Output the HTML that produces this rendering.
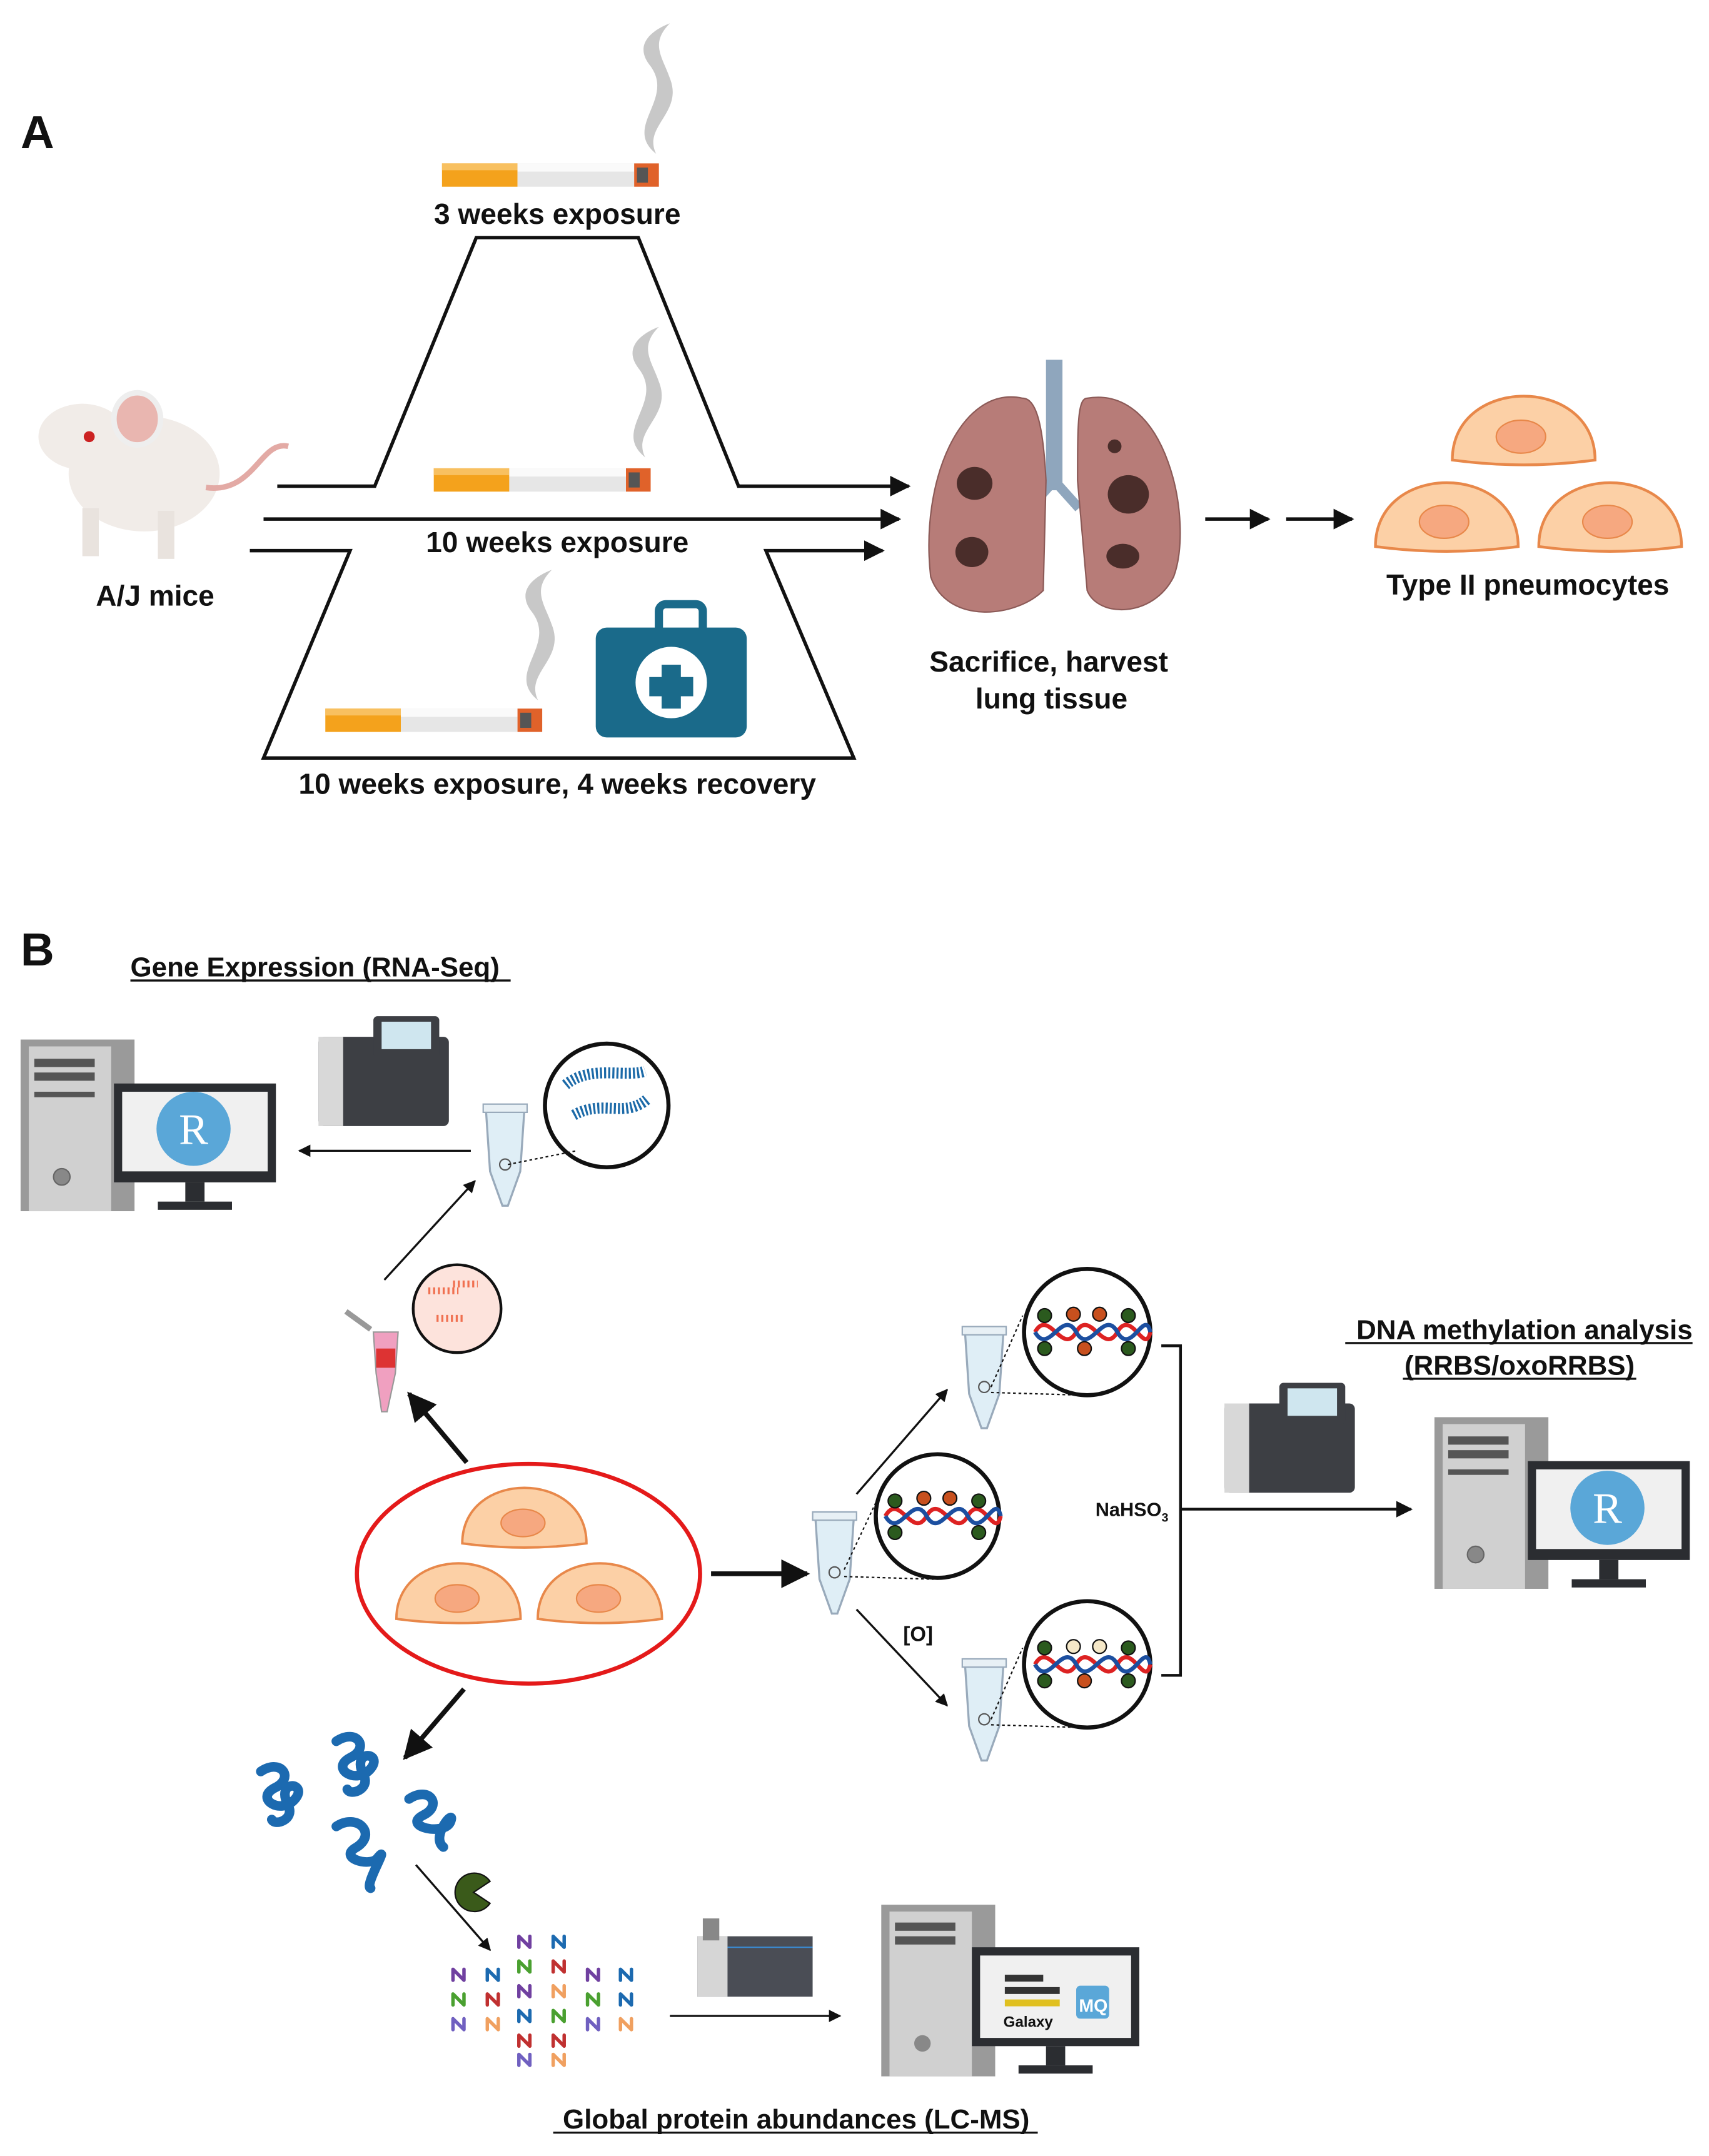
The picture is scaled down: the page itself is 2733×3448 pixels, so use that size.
<!DOCTYPE html>
<html><head><meta charset="utf-8"><style>html,body{margin:0;padding:0;background:#fff}svg{display:block}text{font-family:"Liberation Sans",sans-serif;font-weight:bold;fill:#111}</style></head><body>
<svg width="2733" height="3448" viewBox="0 0 1245 1570" preserveAspectRatio="none" xmlns="http://www.w3.org/2000/svg">
<defs>
<marker id="ar" viewBox="0 0 10 10" refX="9" refY="5" markerWidth="6" markerHeight="6" orient="auto"><path d="M0,0L10,5L0,10z" fill="#111"/></marker>
<g id="cig"><rect x="0" y="0" width="55" height="17" fill="#f4a21c"/><rect x="0" y="0" width="55" height="5" fill="#f8c060"/><rect x="55" y="0" width="85" height="17" fill="#e6e6e6"/><rect x="55" y="0" width="85" height="6" fill="#fafafa"/><rect x="140" y="0" width="18" height="17" fill="#e0622a"/><rect x="142" y="3" width="8" height="11" fill="#555"/></g>
<path id="smoke" d="M0,0 C-25,-20 15,-40 -5,-65 C-20,-85 10,-95 10,-95 C-5,-80 5,-70 10,-55 C20,-30 -10,-20 0,0Z" fill="#c8c8c8"/>
<path id="cell" d="M-52,24 C-52,-38 52,-38 52,24 Q0,31 -52,24Z" fill="#fcd0a6" stroke="#e8884a" stroke-width="2"/>
<g id="tube"><path d="M-14,0 L14,0 L11,45 L2,70 L-2,70 L-11,45Z" fill="#dfeef6" stroke="#9ab" stroke-width="1.5"/><rect x="-16" y="-4" width="32" height="6" fill="#e8f0f5" stroke="#9ab"/><circle cx="0" cy="40" r="4" fill="none" stroke="#555"/></g>
<g id="seq"><rect x="0" y="15" width="95" height="65" rx="4" fill="#3d3f44"/><rect x="0" y="15" width="18" height="65" fill="#d8d8d8"/><rect x="40" y="0" width="48" height="30" rx="3" fill="#3d3f44"/><rect x="46" y="4" width="36" height="20" fill="#cfe6ef"/></g>
<g id="comp"><rect x="0" y="0" width="83" height="125" fill="#9a9a9a"/><rect x="6" y="5" width="60" height="120" fill="#d0d0d0"/><rect x="10" y="14" width="44" height="6" fill="#555"/><rect x="10" y="24" width="44" height="6" fill="#555"/><rect x="10" y="38" width="44" height="4" fill="#555"/><circle cx="30" cy="100" r="6" fill="#888" stroke="#666"/><rect x="68" y="32" width="118" height="72" fill="#2b2d31"/><rect x="74" y="38" width="106" height="58" fill="#f0f0f0"/><rect x="120" y="104" width="14" height="14" fill="#2b2d31"/><rect x="100" y="118" width="54" height="6" fill="#2b2d31"/></g>
<g id="dna"><path d="M-38,0 C-28,-18 -18,18 -8,0 C2,-18 12,18 22,0 C32,-18 42,18 46,0" fill="none" stroke="#d22" stroke-width="3"/><path d="M-38,0 C-28,18 -18,-18 -8,0 C2,18 12,-18 22,0 C32,18 42,-18 46,0" fill="none" stroke="#1c4fa0" stroke-width="3"/></g>
<path id="pep" d="M0,8 L0,0 L8,8 L8,0" fill="none" stroke-width="2.5" stroke-linecap="round" stroke-linejoin="round"/>
</defs>

<text x="15" y="108" font-size="34">A</text>
<use href="#smoke" transform="translate(478,112)"/>
<use href="#cig" transform="translate(322,119)"/>
<text x="406" y="163" font-size="21" text-anchor="middle">3 weeks exposure</text>
<g fill="none" stroke="#111" stroke-width="2.5">
<polyline points="202,354 273,354 347,173 465,173 538,354 662,354" marker-end="url(#ar)"/>
<line x1="192" y1="378" x2="655" y2="378" marker-end="url(#ar)"/>
<polyline points="182,401 255,401 192,552 622,552 558,401 643,401" marker-end="url(#ar)"/>
<line x1="878" y1="378" x2="924" y2="378" marker-end="url(#ar)"/>
<line x1="937" y1="378" x2="985" y2="378" marker-end="url(#ar)"/>
</g>
<use href="#smoke" transform="translate(470,333)"/>
<use href="#cig" transform="translate(316,341)"/>
<text x="406" y="402" font-size="21" text-anchor="middle">10 weeks exposure</text>
<use href="#smoke" transform="translate(392,510)"/>
<use href="#cig" transform="translate(237,516)"/>
<rect x="480" y="440" width="32" height="22" rx="5" fill="none" stroke="#1a6a8a" stroke-width="6"/>
<rect x="434" y="457" width="110" height="80" rx="8" fill="#1a6a8a"/>
<circle cx="489" cy="497" r="26" fill="#fff"/>
<path d="M482,484h14v9h9v14h-9v9h-14v-9h-9v-14h9z" fill="#1a6a8a"/>
<text x="406" y="578" font-size="21" text-anchor="middle">10 weeks exposure, 4 weeks recovery</text>
<ellipse cx="105" cy="345" rx="55" ry="42" fill="#f1ece8"/>
<ellipse cx="60" cy="318" rx="32" ry="24" fill="#f1ece8"/>
<ellipse cx="100" cy="305" rx="17" ry="19" fill="#e9b6b0" stroke="#eee" stroke-width="4"/>
<circle cx="65" cy="318" r="4" fill="#c22"/>
<path d="M150,355 C185,360 190,320 210,325" fill="none" stroke="#e3aaa5" stroke-width="4"/>
<rect x="60" y="370" width="12" height="35" fill="#e9e3de"/><rect x="115" y="372" width="12" height="35" fill="#e9e3de"/>
<text x="113" y="441" font-size="21" text-anchor="middle">A/J mice</text>
<rect x="762" y="262" width="12" height="95" fill="#8fa6bd"/>
<path d="M768,350 L750,370 M768,350 L786,370" stroke="#8fa6bd" stroke-width="7"/>
<path d="M745,290 C700,280 670,350 678,420 C690,455 740,450 760,430 L762,350 C760,310 755,290 745,290Z" fill="#b77c78" stroke="#8c5a57"/>
<path d="M792,290 C850,280 870,380 855,420 C840,450 800,450 792,430 L785,350 C785,310 785,290 792,290Z" fill="#b77c78" stroke="#8c5a57"/>
<ellipse cx="710" cy="352" rx="13" ry="12" fill="#4a2d2a"/><ellipse cx="708" cy="402" rx="12" ry="11" fill="#4a2d2a"/>
<ellipse cx="822" cy="360" rx="15" ry="14" fill="#4a2d2a"/><ellipse cx="818" cy="405" rx="12" ry="9" fill="#4a2d2a"/><circle cx="812" cy="325" r="5" fill="#4a2d2a"/>
<text x="764" y="489" font-size="21" text-anchor="middle">Sacrifice, harvest</text>
<text x="766" y="516" font-size="21" text-anchor="middle">lung tissue</text>
<use href="#cell" transform="translate(1110,311)"/><ellipse cx="1108" cy="318" rx="18" ry="12" fill="#f6a880" stroke="#e8884a"/>
<use href="#cell" transform="translate(1054,374)"/><ellipse cx="1052" cy="380" rx="18" ry="12" fill="#f6a880" stroke="#e8884a"/>
<use href="#cell" transform="translate(1173,374)"/><ellipse cx="1171" cy="380" rx="18" ry="12" fill="#f6a880" stroke="#e8884a"/>
<text x="1113" y="433" font-size="21" text-anchor="middle">Type II pneumocytes</text>

<text x="15" y="703" font-size="34">B</text>
<text x="95" y="711" font-size="20">Gene Expression (RNA-Seq)</text>
<line x1="95" y1="714" x2="372" y2="714" stroke="#111" stroke-width="1.5"/>
<use href="#comp" transform="translate(15,757)"/>
<circle cx="141" cy="822" r="27" fill="#5aa7d8"/><text x="141" y="833" font-size="32" text-anchor="middle" style="font-family:'Liberation Serif',serif;font-weight:normal;fill:#fff">R</text>
<use href="#seq" transform="translate(232,740)"/>
<g fill="none" stroke="#111" stroke-width="1.5">
<line x1="343" y1="838" x2="218" y2="838" marker-end="url(#ar)"/>
<line x1="280" y1="932" x2="346" y2="860" marker-end="url(#ar)"/>
<line x1="340" y1="1065" x2="298" y2="1015" stroke-width="3.5" marker-end="url(#ar)"/>
<line x1="518" y1="1146" x2="588" y2="1146" stroke-width="3.5" marker-end="url(#ar)"/>
<line x1="624" y1="1088" x2="690" y2="1012" marker-end="url(#ar)"/>
<line x1="624" y1="1172" x2="690" y2="1242" marker-end="url(#ar)"/>
<polyline points="846,980 860,980 860,1220 846,1220" stroke-width="2"/>
<line x1="860" y1="1099" x2="1028" y2="1099" stroke-width="2" marker-end="url(#ar)"/>
<line x1="338" y1="1230" x2="295" y2="1280" stroke-width="3.5" marker-end="url(#ar)"/>
<line x1="303" y1="1358" x2="357" y2="1420" marker-end="url(#ar)"/>
<line x1="488" y1="1468" x2="612" y2="1468" marker-end="url(#ar)"/>
</g>
<use href="#tube" transform="translate(368,808)"/>
<circle cx="442" cy="805" r="45" fill="#fff" stroke="#111" stroke-width="3"/>
<path d="M412,790 C430,775 455,785 470,780 M418,812 C440,800 455,815 472,800" fill="none" stroke="#1c6aa8" stroke-width="8" stroke-dasharray="1.5 1.5"/>
<line x1="370" y1="848" x2="420" y2="838" stroke="#111" stroke-dasharray="2 2"/>
<path d="M272,970 L290,970 L288,1000 L282,1028 L278,1028 L274,1000Z" fill="#f0a0c0" stroke="#999"/>
<rect x="274" y="982" width="14" height="14" fill="#d33"/>
<path d="M252,955 L270,968" stroke="#999" stroke-width="4"/>
<circle cx="333" cy="953" r="32" fill="#fde3dc" stroke="#111" stroke-width="2"/>
<path d="M312,940h22M318,960h20M330,935h18" stroke="#f07050" stroke-width="5" stroke-dasharray="1.5 2"/>
<ellipse cx="385" cy="1146" rx="125" ry="80" fill="none" stroke="#e41a1a" stroke-width="3"/>
<use href="#cell" transform="translate(382,1103) scale(0.87)"/><ellipse cx="381" cy="1109" rx="16" ry="10" fill="#f6a880" stroke="#e8884a"/>
<use href="#cell" transform="translate(334,1158) scale(0.87)"/><ellipse cx="333" cy="1164" rx="16" ry="10" fill="#f6a880" stroke="#e8884a"/>
<use href="#cell" transform="translate(437,1158) scale(0.87)"/><ellipse cx="436" cy="1164" rx="16" ry="10" fill="#f6a880" stroke="#e8884a"/>
<use href="#tube" transform="translate(608,1105)"/>
<circle cx="683" cy="1104" r="45" fill="#fff" stroke="#111" stroke-width="3"/>
<use href="#dna" transform="translate(683,1104)"/>
<g fill="#2b5a1e" stroke="#111"><circle cx="652" cy="1093" r="5"/><circle cx="713" cy="1093" r="5"/><circle cx="652" cy="1116" r="5"/><circle cx="713" cy="1116" r="5"/></g>
<g fill="#c8501e" stroke="#111"><circle cx="673" cy="1091" r="5"/><circle cx="692" cy="1091" r="5"/></g>
<text x="658" y="1195" font-size="15">[O]</text>
<use href="#tube" transform="translate(717,970)"/>
<circle cx="792" cy="970" r="46" fill="#fff" stroke="#111" stroke-width="3"/>
<use href="#dna" transform="translate(792,970)"/>
<g fill="#2b5a1e" stroke="#111"><circle cx="761" cy="958" r="5"/><circle cx="822" cy="958" r="5"/><circle cx="761" cy="982" r="5"/><circle cx="822" cy="982" r="5"/></g>
<g fill="#c8501e" stroke="#111"><circle cx="782" cy="957" r="5"/><circle cx="801" cy="957" r="5"/><circle cx="790" cy="982" r="5"/></g>
<use href="#tube" transform="translate(717,1212)"/>
<circle cx="792" cy="1212" r="46" fill="#fff" stroke="#111" stroke-width="3"/>
<use href="#dna" transform="translate(792,1212)"/>
<g fill="#2b5a1e" stroke="#111"><circle cx="761" cy="1200" r="5"/><circle cx="822" cy="1200" r="5"/><circle cx="761" cy="1224" r="5"/><circle cx="822" cy="1224" r="5"/></g>
<g fill="#f5e8c8" stroke="#111"><circle cx="782" cy="1199" r="5"/><circle cx="801" cy="1199" r="5"/></g><circle cx="790" cy="1224" r="5" fill="#c8501e" stroke="#111"/>
<g stroke="#111" stroke-dasharray="2 2"><line x1="615" y1="1143" x2="640" y2="1090"/><line x1="615" y1="1148" x2="680" y2="1150"/><line x1="722" y1="1010" x2="745" y2="958"/><line x1="722" y1="1014" x2="790" y2="1016"/><line x1="722" y1="1252" x2="745" y2="1200"/><line x1="722" y1="1256" x2="790" y2="1258"/></g>
<text x="798" y="1104" font-size="14">NaHSO<tspan font-size="9" dy="4">3</tspan></text>
<text x="1233" y="975" font-size="20" text-anchor="end">DNA methylation analysis</text>
<text x="1107" y="1001" font-size="20" text-anchor="middle">(RRBS/oxoRRBS)</text>
<line x1="980" y1="978" x2="1233" y2="978" stroke="#111" stroke-width="1.5"/>
<line x1="1022" y1="1004" x2="1192" y2="1004" stroke="#111" stroke-width="1.5"/>
<use href="#seq" transform="translate(892,1007)"/>
<use href="#comp" transform="translate(1045,1032)"/>
<circle cx="1171" cy="1098" r="27" fill="#5aa7d8"/><text x="1171" y="1109" font-size="32" text-anchor="middle" style="font-family:'Liberation Serif',serif;font-weight:normal;fill:#fff">R</text>
<g fill="none" stroke="#1c6ab0" stroke-width="7" stroke-linecap="round">
<path d="M190,1290 c15,-10 25,5 10,12 c-15,8 5,20 15,8 c10,-12 -15,-15 -5,5 c5,10 -10,15 -12,10"/>
<path d="M245,1268 c15,-10 25,5 10,12 c-15,8 5,20 15,8 c10,-12 -15,-15 -5,5 c5,10 -10,15 -12,10"/>
<path d="M245,1330 c15,-10 30,5 15,15 c-15,8 10,15 15,8 c10,-12 -10,20 -5,22"/>
<path d="M298,1310 c15,-10 25,5 10,12 c-15,8 15,15 20,5 c5,-12 -15,10 -5,18"/>
</g>
<path d="M345,1378 L357,1370 A14,14 0 1,0 357,1386Z" fill="#3a5a1a" stroke="#111"/>
<g>
<use href="#pep" transform="translate(378,1410)" stroke="#7040a0"/><use href="#pep" transform="translate(403,1410)" stroke="#1c6ab0"/>
<use href="#pep" transform="translate(330,1434)" stroke="#7040a0"/><use href="#pep" transform="translate(355,1434)" stroke="#1c6ab0"/><use href="#pep" transform="translate(378,1428)" stroke="#4aa030"/><use href="#pep" transform="translate(403,1428)" stroke="#c03030"/><use href="#pep" transform="translate(428,1434)" stroke="#7040a0"/><use href="#pep" transform="translate(452,1434)" stroke="#1c6ab0"/>
<use href="#pep" transform="translate(330,1452)" stroke="#4aa030"/><use href="#pep" transform="translate(355,1452)" stroke="#c03030"/><use href="#pep" transform="translate(378,1446)" stroke="#7040a0"/><use href="#pep" transform="translate(403,1446)" stroke="#f0a060"/><use href="#pep" transform="translate(428,1452)" stroke="#4aa030"/><use href="#pep" transform="translate(452,1452)" stroke="#1c6ab0"/>
<use href="#pep" transform="translate(330,1470)" stroke="#7060c0"/><use href="#pep" transform="translate(355,1470)" stroke="#f0a060"/><use href="#pep" transform="translate(378,1464)" stroke="#1c6ab0"/><use href="#pep" transform="translate(403,1464)" stroke="#4aa030"/><use href="#pep" transform="translate(428,1470)" stroke="#7060c0"/><use href="#pep" transform="translate(452,1470)" stroke="#f0a060"/>
<use href="#pep" transform="translate(378,1482)" stroke="#c03030"/><use href="#pep" transform="translate(403,1482)" stroke="#c03030"/>
<use href="#pep" transform="translate(378,1496)" stroke="#7060c0"/><use href="#pep" transform="translate(403,1496)" stroke="#f0a060"/>
</g>
<rect x="508" y="1410" width="84" height="44" fill="#4a4d55"/><rect x="508" y="1410" width="22" height="44" fill="#d6d6d6"/><rect x="512" y="1397" width="12" height="16" fill="#888"/><line x1="530" y1="1418" x2="592" y2="1418" stroke="#3a8ad0"/>
<rect x="642" y="1387" width="83" height="125" fill="#9a9a9a"/><rect x="648" y="1392" width="60" height="120" fill="#d0d0d0"/><rect x="652" y="1400" width="44" height="6" fill="#555"/><rect x="652" y="1410" width="44" height="6" fill="#555"/><circle cx="672" cy="1488" r="6" fill="#888"/>
<rect x="708" y="1418" width="122" height="72" fill="#2b2d31"/><rect x="714" y="1424" width="110" height="60" fill="#f0f0f0"/><rect x="762" y="1490" width="14" height="14" fill="#2b2d31"/><rect x="742" y="1504" width="54" height="6" fill="#2b2d31"/>
<rect x="732" y="1438" width="28" height="5" fill="#333"/><rect x="732" y="1447" width="40" height="5" fill="#333"/><rect x="732" y="1456" width="40" height="5" fill="#e0c020"/>
<text x="731" y="1476" font-size="11">Galaxy</text>
<rect x="784" y="1446" width="24" height="24" rx="3" fill="#5aa7d8"/><text x="786" y="1465" font-size="13" style="fill:#fff">MQ</text>
<text x="580" y="1550" font-size="20" text-anchor="middle">Global protein abundances (LC-MS)</text>
<line x1="403" y1="1553" x2="756" y2="1553" stroke="#111" stroke-width="1.5"/>
</svg>
</body></html>
